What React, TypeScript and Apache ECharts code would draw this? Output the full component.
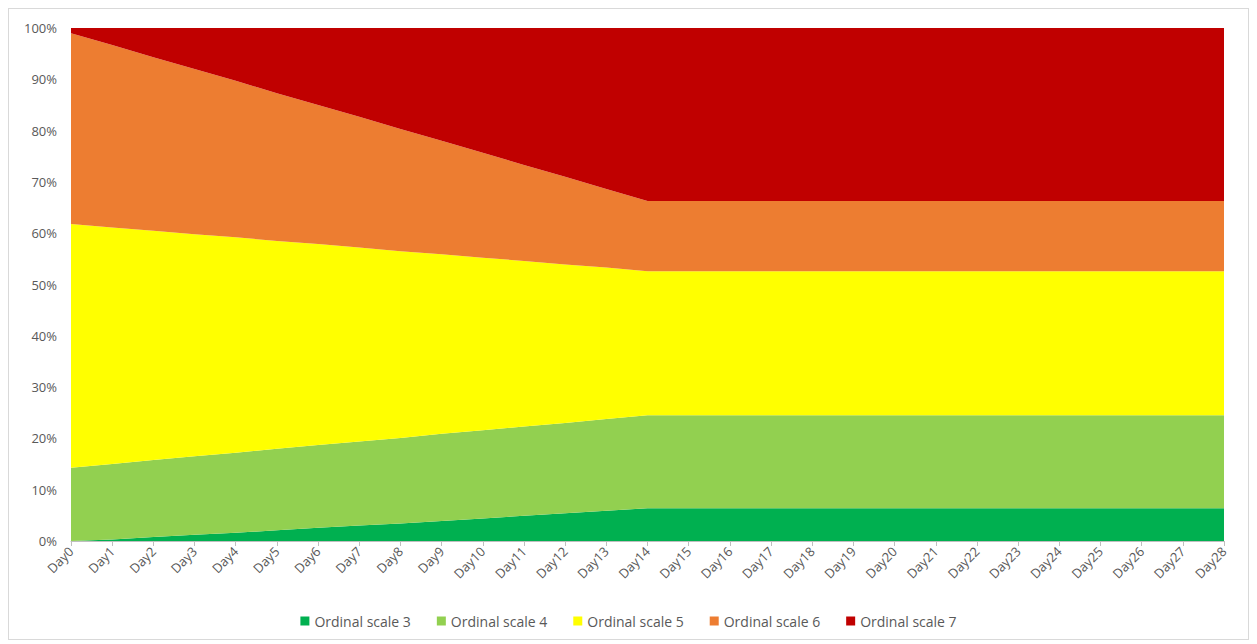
import React, { useEffect, useRef } from "react";
import * as echarts from "echarts";

const days = [
  "Day0", "Day1", "Day2", "Day3", "Day4", "Day5", "Day6", "Day7", "Day8", "Day9",
  "Day10", "Day11", "Day12", "Day13", "Day14", "Day15", "Day16", "Day17", "Day18", "Day19",
  "Day20", "Day21", "Day22", "Day23", "Day24", "Day25", "Day26", "Day27", "Day28",
];

const scale3 = [
  0, 0.3, 0.8, 1.2, 1.6, 2.1, 2.6, 3.0, 3.4, 3.9, 4.4, 4.9, 5.4, 5.9, 6.4,
  6.4, 6.4, 6.4, 6.4, 6.4, 6.4, 6.4, 6.4, 6.4, 6.4, 6.4, 6.4, 6.4, 6.4,
];
const scale4 = [
  14.3, 14.7, 15.0, 15.3, 15.6, 15.9, 16.1, 16.4, 16.7, 17.0, 17.2, 17.4, 17.6, 17.9, 18.1,
  18.1, 18.1, 18.1, 18.1, 18.1, 18.1, 18.1, 18.1, 18.1, 18.1, 18.1, 18.1, 18.1, 18.1,
];
const scale5 = [
  47.5, 46.1, 44.7, 43.3, 42.0, 40.5, 39.2, 37.8, 36.4, 35.0, 33.6, 32.3, 30.9, 29.5, 28.1,
  28.1, 28.1, 28.1, 28.1, 28.1, 28.1, 28.1, 28.1, 28.1, 28.1, 28.1, 28.1, 28.1, 28.1,
];
const scale6 = [
  37.2, 35.6, 33.8, 32.2, 30.5, 28.8, 27.1, 25.5, 23.8, 22.1, 20.5, 18.7, 17.1, 15.3, 13.7,
  13.7, 13.7, 13.7, 13.7, 13.7, 13.7, 13.7, 13.7, 13.7, 13.7, 13.7, 13.7, 13.7, 13.7,
];
const scale7 = [
  1.0, 3.3, 5.7, 8.0, 10.3, 12.7, 15.0, 17.3, 19.7, 22.0, 24.3, 26.7, 29.0, 31.4, 33.7,
  33.7, 33.7, 33.7, 33.7, 33.7, 33.7, 33.7, 33.7, 33.7, 33.7, 33.7, 33.7, 33.7, 33.7,
];

const seriesNames = ["Ordinal scale 3", "Ordinal scale 4", "Ordinal scale 5", "Ordinal scale 6", "Ordinal scale 7"];
const seriesColors = ["#00B050", "#92D050", "#FFFF00", "#ED7D31", "#C00000"];
const seriesData = [scale3, scale4, scale5, scale6, scale7];

const FONT = "'Open Sans', 'Liberation Sans', sans-serif";

export default function App() {
  const ref = useRef<HTMLDivElement>(null);
  useEffect(() => {
    if (!ref.current) return;
    const chart = echarts.init(ref.current, undefined, { renderer: "svg" });
    chart.setOption({
      animation: false,
      backgroundColor: "#ffffff",
      grid: { left: 62, right: 24, top: 19, bottom: 98, containLabel: false },
      legend: {
        bottom: 6,
        left: "center",
        itemWidth: 9,
        itemHeight: 9,
        itemGap: 26,
        icon: "rect",
        textStyle: { color: "#595959", fontSize: 14, fontFamily: FONT },
        data: seriesNames,
      },
      xAxis: {
        type: "category",
        data: days,
        boundaryGap: false,
        axisLine: { show: true, lineStyle: { color: "#BFBFBF" } },
        axisTick: { show: true, alignWithLabel: true, length: 5, lineStyle: { color: "#BFBFBF" } },
        axisLabel: {
          rotate: 45,
          interval: 0,
          color: "#595959",
          fontSize: 13,
          fontFamily: FONT,
          margin: 8,
        },
      },
      yAxis: {
        type: "value",
        min: 0,
        max: 100,
        interval: 10,
        axisLine: { show: false },
        axisTick: { show: false },
        splitLine: { show: false },
        axisLabel: {
          formatter: "{value}%",
          color: "#595959",
          fontSize: 13,
          fontFamily: FONT,
          margin: 14,
        },
      },
      series: seriesData.map((d, i) => ({
        name: seriesNames[i],
        type: "line",
        stack: "total",
        data: d,
        symbol: "none",
        lineStyle: { width: 0 },
        areaStyle: { color: seriesColors[i], opacity: 1 },
        itemStyle: { color: seriesColors[i] },
      })),
    });
    return () => chart.dispose();
  }, []);
  return (
    <div
      ref={ref}
      style={{ width: 1241, height: 632, border: "1px solid #D9D9D9", boxSizing: "border-box" }}
    />
  );
}
